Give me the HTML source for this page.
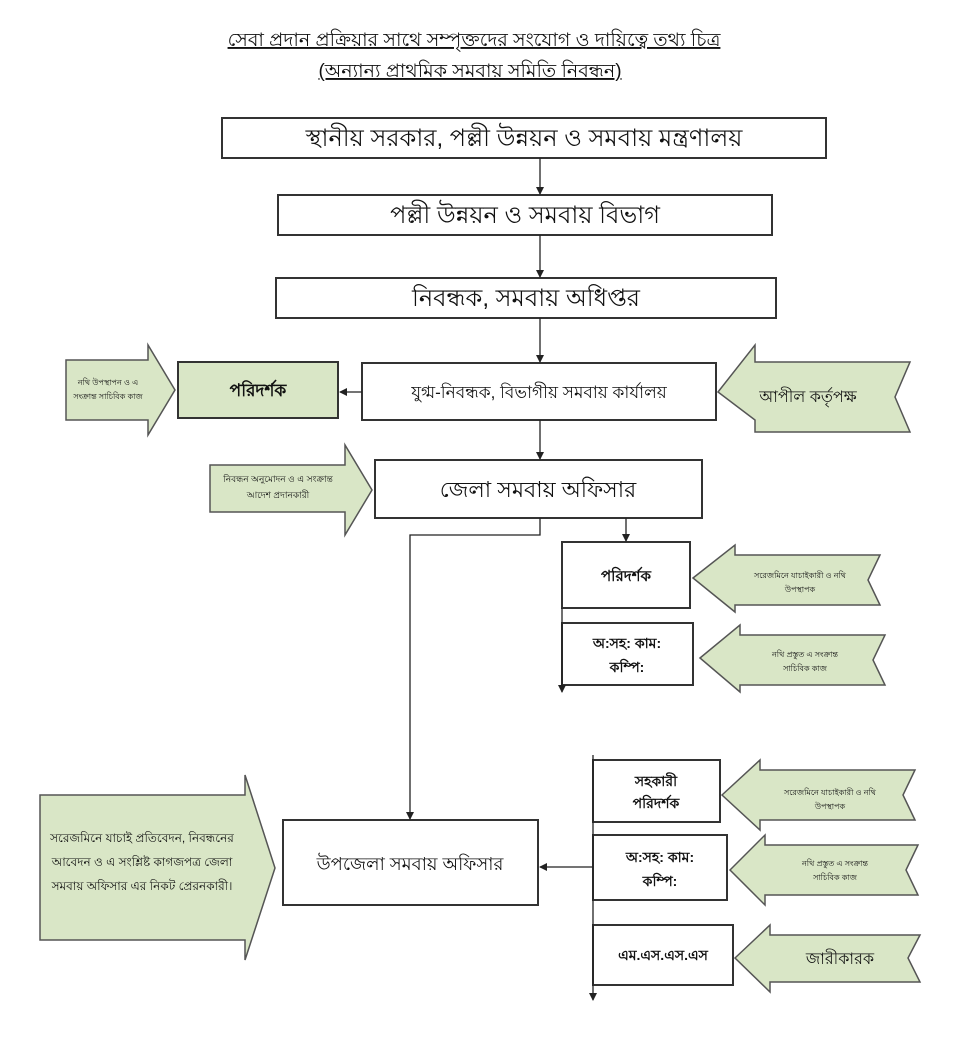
<!DOCTYPE html>
<html><head><meta charset="utf-8"><style>
body{margin:0;background:#fff;}
svg text{font-family:"Liberation Sans","Noto Sans CJK SC",sans-serif;fill:#111;}
</style></head><body>
<svg width="976" height="1052" viewBox="0 0 976 1052" xmlns="http://www.w3.org/2000/svg">
<defs><marker id="a" markerWidth="8" markerHeight="8" refX="7" refY="4" orient="auto" markerUnits="userSpaceOnUse"><path d="M0,0 L8,4 L0,8z" fill="#222"/></marker></defs>
<g stroke="#333" stroke-width="2" fill="#fff">
<text x="474" y="46" font-size="19" text-anchor="middle" text-decoration="underline" stroke="none">সেবা প্রদান প্রক্রিয়ার সাথে সম্পৃক্তদের সংযোগ ও দায়িত্বে তথ্য চিত্র</text>
<text x="470" y="77" font-size="19" text-anchor="middle" text-decoration="underline" stroke="none">(অন্যান্য প্রাথমিক সমবায় সমিতি নিবন্ধন)</text>
<rect x="222" y="118" width="604" height="40"/>
<rect x="278" y="195" width="494" height="40"/>
<rect x="276" y="278" width="500" height="40"/>
<rect x="362" y="363" width="354" height="57"/>
<rect x="178" y="362" width="160" height="56" fill="#d9e6c6"/>
<rect x="375" y="460" width="327" height="58"/>
<rect x="562" y="542" width="128" height="66"/>
<rect x="562" y="623" width="131" height="62"/>
<rect x="283" y="820" width="255" height="85"/>
<rect x="593" y="760" width="127" height="62"/>
<rect x="593" y="835" width="134" height="65"/>
<rect x="593" y="925" width="140" height="60"/>
</g>
<g fill="#d9e6c6" stroke="#555" stroke-width="1.5">
<polygon points="66,360 148,360 148,345 175,390 148,435 148,420 66,420"/>
<polygon points="718,392 755,345 755,362 910,362 895,397 910,432 755,432 755,420"/>
<polygon points="210,465 345,465 345,445 372,490 345,535 345,512 210,512"/>
<polygon points="693,578 735,545 735,555 880,555 868,580 880,605 735,605 735,612"/>
<polygon points="700,658 740,625 740,635 885,635 873,660 885,685 740,685 740,692"/>
<polygon points="40,795 245,795 245,775 275,868 245,960 245,940 40,940"/>
<polygon points="722,795 760,760 760,770 915,770 903,795 915,820 760,820 760,830"/>
<polygon points="730,870 765,835 765,845 918,845 906,870 918,895 765,895 765,905"/>
<polygon points="735,958 770,925 770,935 920,935 908,958 920,982 770,982 770,992"/>
</g>
<g stroke="#222" stroke-width="1.3" fill="none">
<line x1="540" y1="158" x2="540" y2="194" marker-end="url(#a)"/>
<line x1="540" y1="235" x2="540" y2="277" marker-end="url(#a)"/>
<line x1="540" y1="318" x2="540" y2="362" marker-end="url(#a)"/>
<line x1="362" y1="392" x2="340" y2="392" marker-end="url(#a)"/>
<line x1="540" y1="420" x2="540" y2="459" marker-end="url(#a)"/>
<polyline points="540,518 540,535 410,535 410,819" marker-end="url(#a)"/>
<line x1="626" y1="518" x2="626" y2="541" marker-end="url(#a)"/>
<line x1="562" y1="608" x2="562" y2="692" marker-end="url(#a)"/>
<line x1="593" y1="755" x2="593" y2="1000" marker-end="url(#a)"/>
<line x1="593" y1="867" x2="540" y2="867" marker-end="url(#a)"/>
</g>
<g text-anchor="middle">
<text x="524" y="146" font-size="24">স্থানীয় সরকার, পল্লী উন্নয়ন ও সমবায় মন্ত্রণালয়</text>
<text x="525" y="223" font-size="24">পল্লী উন্নয়ন ও  সমবায় বিভাগ</text>
<text x="526" y="306" font-size="24">নিবন্ধক, সমবায় অধিপ্তর</text>
<text x="539" y="398" font-size="17">যুগ্ম-নিবন্ধক, বিভাগীয় সমবায় কার্যালয়</text>
<text x="258" y="396" font-size="17" font-weight="bold">পরিদর্শক</text>
<text x="538" y="497" font-size="22">জেলা সমবায় অফিসার</text>
<text x="626" y="581" font-size="15" font-weight="bold">পরিদর্শক</text>
<text x="627" y="648" font-size="14" font-weight="bold">অ:সহ: কাম:</text>
<text x="627" y="672" font-size="14" font-weight="bold">কম্পি:</text>
<text x="410" y="870" font-size="18">উপজেলা সমবায় অফিসার</text>
<text x="656" y="786" font-size="14" font-weight="bold">সহকারী</text>
<text x="656" y="808" font-size="14" font-weight="bold">পরিদর্শক</text>
<text x="660" y="862" font-size="14" font-weight="bold">অ:সহ: কাম:</text>
<text x="660" y="886" font-size="14" font-weight="bold">কম্পি:</text>
<text x="663" y="960" font-size="14" font-weight="bold">এম.এস.এস.এস</text>
<text x="108" y="385" font-size="8">নথি উপস্থাপন ও এ</text>
<text x="108" y="399" font-size="8">সংক্রান্ত সাচিবিক কাজ</text>
<text x="808" y="402" font-size="16">আপীল কর্তৃপক্ষ</text>
<text x="278" y="482" font-size="9">নিবন্ধন অনুমোদন ও এ সংক্রান্ত</text>
<text x="278" y="498" font-size="9">আদেশ প্রদানকারী</text>
<text x="800" y="578" font-size="8">সরেজমিনে যাচাইকারী ও নথি</text>
<text x="800" y="592" font-size="8">উপস্থাপক</text>
<text x="805" y="657" font-size="8">নথি প্রস্তুত এ সংক্রান্ত</text>
<text x="805" y="671" font-size="8">সাচিবিক কাজ</text>
<text x="142" y="842" font-size="12">সরেজমিনে যাচাই প্রতিবেদন, নিবন্ধনের</text>
<text x="142" y="866" font-size="12">আবেদন ও এ সংশ্লিষ্ট কাগজপত্র জেলা</text>
<text x="142" y="890" font-size="12">সমবায় অফিসার এর নিকট প্রেরনকারী।</text>
<text x="830" y="795" font-size="8">সরেজমিনে যাচাইকারী ও নথি</text>
<text x="830" y="809" font-size="8">উপস্থাপক</text>
<text x="835" y="866" font-size="8">নথি প্রস্তুত এ সংক্রান্ত</text>
<text x="835" y="880" font-size="8">সাচিবিক কাজ</text>
<text x="840" y="964" font-size="16">জারীকারক</text>
</g>
</svg>
</body></html>
